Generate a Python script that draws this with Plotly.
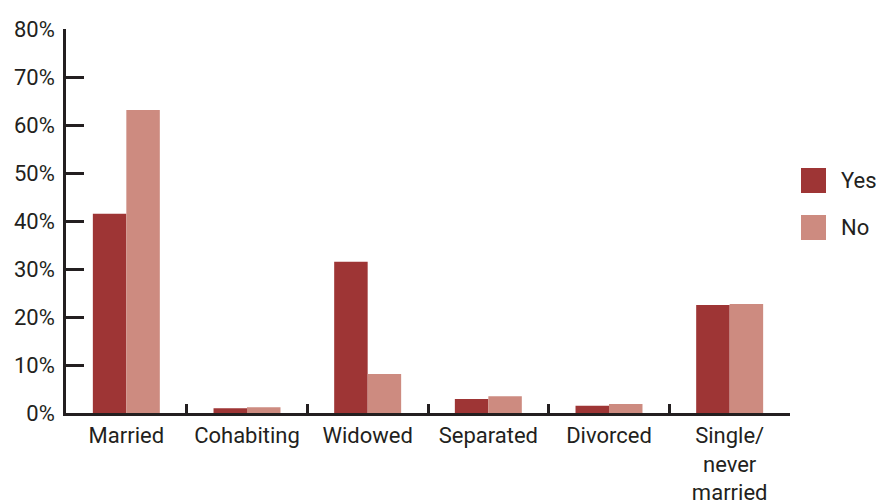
import plotly.graph_objects as go

categories = ["Married", "Cohabiting", "Widowed", "Separated", "Divorced", "Single/<br>never<br>married"]
yes_values = [41.5, 1.0, 31.5, 2.9, 1.5, 22.5]
no_values = [63.1, 1.2, 8.1, 3.5, 1.9, 22.7]
y_ticks = [0, 10, 20, 30, 40, 50, 60, 70, 80]
y_tick_labels = [f"{v}%" for v in y_ticks]

YES_COLOR = "#9e3535"
NO_COLOR = "#cd8b80"
TEXT_COLOR = "#231f20"
FONT = "Roboto, Arial, sans-serif"

fig = go.Figure()
fig.add_trace(go.Bar(name="Yes", x=categories, y=yes_values, marker=dict(color=YES_COLOR, line=dict(width=0))))
fig.add_trace(go.Bar(name="No", x=categories, y=no_values, marker=dict(color=NO_COLOR, line=dict(width=0))))

fig.update_layout(
    width=879, height=503,
    margin=dict(l=66, r=89, t=29, b=90, autoexpand=False),
    paper_bgcolor="white", plot_bgcolor="white",
    barmode="group", bargap=0.445, bargroupgap=0,
    showlegend=False,
    font=dict(family=FONT, size=22, color=TEXT_COLOR),
)
fig.update_xaxes(
    automargin=False,
    showline=True, linecolor=TEXT_COLOR, linewidth=2.5,
    ticks="inside", tickson="boundaries", ticklen=9, tickwidth=2.5, tickcolor=TEXT_COLOR,
    showgrid=False, zeroline=False, ticklabelstandoff=1,
    tickfont=dict(family=FONT, size=22, color=TEXT_COLOR),
)
fig.update_yaxes(
    automargin=False,
    range=[0, 80], showline=True, linecolor=TEXT_COLOR, linewidth=2.5,
    tickmode="array", tickvals=y_ticks, ticktext=y_tick_labels,
    ticks="inside", ticklen=18, tickwidth=2.5, tickcolor=TEXT_COLOR,
    showgrid=False, zeroline=False, ticklabelstandoff=4,
    tickfont=dict(family=FONT, size=22, color=TEXT_COLOR),
)

# Legend drawn as swatches with labels at the right of the plot
legend_items = [("Yes", YES_COLOR, 168), ("No", NO_COLOR, 215)]
for label, color, top in legend_items:
    fig.add_shape(type="rect", xref="paper", yref="paper",
                  x0=(801 - 66) / 724, x1=(826 - 66) / 724,
                  y0=(413 - (top + 25)) / 384, y1=(413 - top) / 384,
                  fillcolor=color, line=dict(width=0))
    fig.add_annotation(xref="paper", yref="paper",
                       x=(839 - 66) / 724, y=(413 - (top + 12.5)) / 384,
                       text=label, showarrow=False, xanchor="left", yanchor="middle",
                       font=dict(family=FONT, size=22, color=TEXT_COLOR))

fig.write_html("out.html")
